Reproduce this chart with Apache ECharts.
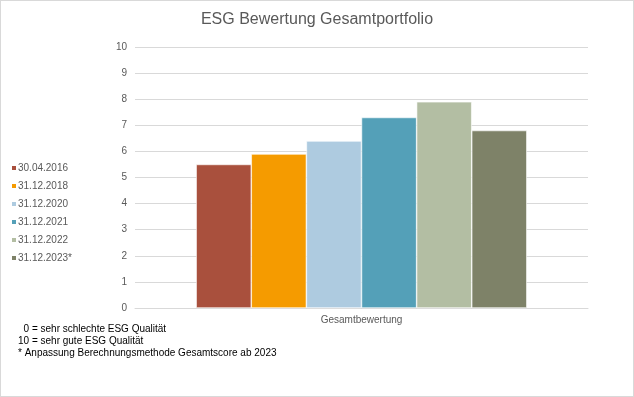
<!DOCTYPE html>
<html>
<head>
<meta charset="utf-8">
<script src="https://cdn.jsdelivr.net/npm/echarts@6/dist/echarts.min.js"></script>
<style>
  html, body { margin: 0; padding: 0; background: #fff; }
  #chart { width: 634px; height: 397px; box-sizing: border-box; border: 1px solid #d9d9d9; }
</style>
</head>
<body>
<div id="chart"></div>
<script>
var kategorien = ['Gesamtbewertung'];
var stichtage = ['30.04.2016', '31.12.2018', '31.12.2020', '31.12.2021', '31.12.2022', '31.12.2023*'];
var werte = [5.5, 5.9, 6.4, 7.3, 7.9, 6.8];
var farben = ['#a9503d', '#f59b00', '#aecbe0', '#54a0b8', '#b3bea3', '#7e8268'];
var fussnoten = ['  0 = sehr schlechte ESG Qualität', '10 = sehr gute ESG Qualität', '* Anpassung Berechnungsmethode Gesamtscore ab 2023'];

var myChart = echarts.init(document.getElementById('chart'));

var serien = stichtage.map(function (name, i) {
  return {
    name: name,
    type: 'bar',
    data: [werte[i]],
    barGap: '0%',
    barCategoryGap: '27%',
    itemStyle: { color: farben[i], borderColor: '#ffffff', borderWidth: 0.6 }
  };
});

var option = {
  animation: false,
  textStyle: { fontFamily: 'Liberation Sans' },
  title: {
    text: 'ESG Bewertung Gesamtportfolio',
    left: 'center',
    top: 6,
    textStyle: { fontSize: 16, fontWeight: 'normal', color: '#595959', fontFamily: 'Liberation Sans' }
  },
  legend: {
    orient: 'vertical',
    left: 4,
    top: 156,
    icon: 'rect',
    itemWidth: 6,
    itemHeight: 6,
    itemGap: 6,
    textStyle: { fontSize: 10, color: '#595959', padding: [0, 0, 0, -4], lineHeight: 12 },
    data: stichtage
  },
  grid: { left: 134, right: 45, top: 46, bottom: 88, containLabel: false },
  xAxis: {
    type: 'category',
    data: kategorien,
    axisLine: { lineStyle: { color: '#d9d9d9' } },
    axisTick: { show: false },
    axisLabel: { fontSize: 10, color: '#595959', margin: 7 }
  },
  yAxis: {
    type: 'value',
    min: 0,
    max: 10,
    interval: 1,
    axisLine: { show: false },
    axisTick: { show: false },
    axisLabel: { fontSize: 10, color: '#595959', margin: 8 },
    splitLine: { lineStyle: { color: '#d9d9d9' } }
  },
  graphic: fussnoten.map(function (t, i) {
    return {
      type: 'text',
      left: 17,
      top: 323 + i * 12,
      style: { text: t, fontSize: 10, fill: '#000', fontFamily: 'Liberation Sans' }
    };
  }),
  series: serien
};

myChart.setOption(option);
</script>
</body>
</html>
